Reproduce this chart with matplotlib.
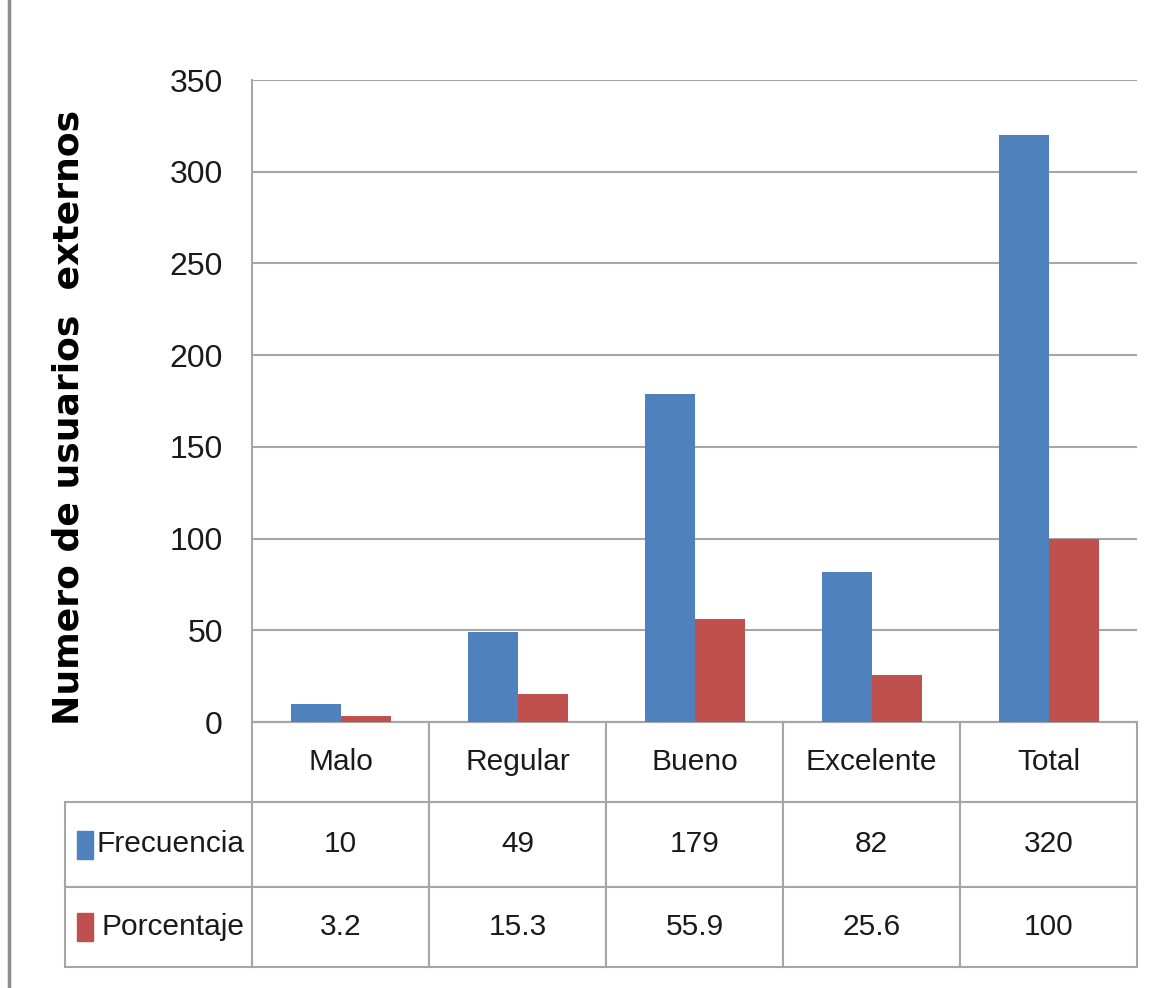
import matplotlib
matplotlib.use("Agg")
import matplotlib.pyplot as plt
from matplotlib.patches import Rectangle
from matplotlib.lines import Line2D
from matplotlib.table import Table
import numpy as np

categories = ["Malo", "Regular", "Bueno", "Excelente", "Total"]
frecuencia = [10, 49, 179, 82, 320]
porcentaje = [3.2, 15.3, 55.9, 25.6, 100]
series_names = ["Frecuencia", "Porcentaje"]
yticks = [0, 50, 100, 150, 200, 250, 300, 350]

BLUE = "#4F81BD"
RED = "#C0504D"
GRID = "#A6A6A6"
NARROW = ["Liberation Sans", "DejaVu Sans"]

W, H = 1161, 988
fig = plt.figure(figsize=(W / 100, H / 100), dpi=100)
ax = fig.add_axes([252 / W, 1 - 722 / H, 885 / W, 642 / H])

x = np.arange(len(categories))
bw = 50 / 177
ax.bar(x - bw / 2, frecuencia, bw, color=BLUE, zorder=3)
ax.bar(x + bw / 2, porcentaje, bw, color=RED, zorder=3)

ax.set_xlim(-0.5, len(categories) - 0.5)
ax.set_ylim(0, 350)
ax.set_yticks(yticks)
ax.set_yticklabels([str(v) for v in yticks], family=NARROW, fontsize=23, color="#1a1a1a")
ax.tick_params(axis="y", length=0, pad=21)
ax.set_xticks([])
ax.grid(axis="y", color=GRID, linewidth=1.5, zorder=0)
for side in ["top", "right"]:
    ax.spines[side].set_visible(False)
for side in ["left", "bottom"]:
    ax.spines[side].set_color(GRID)
    ax.spines[side].set_linewidth(1.5)

ax.set_ylabel("Numero de usuarios  externos", fontsize=26, fontweight="bold",
              family="DejaVu Sans", labelpad=0)
ax.yaxis.set_label_coords((86 - 252) / 885, (722 - 417) / 642)

# data table under the chart (built cell by cell); bbox covers the value grid only
tbl = Table(ax, bbox=[0, -245 / 642, 1, 245 / 642])
tbl.auto_set_font_size(False)
row_h = [80 / 245, 85 / 245, 80 / 245]
col_w = 1 / len(categories)
label_w = 187 / 885
rows = [frecuencia, porcentaje]
for j, cat in enumerate(categories):
    tbl.add_cell(0, j, col_w, row_h[0], text=cat, loc="center")
for i, (name, vals) in enumerate(zip(series_names, rows), start=1):
    tbl.add_cell(i, -1, label_w, row_h[i], text=name, loc="right")
    for j, v in enumerate(vals):
        tbl.add_cell(i, j, col_w, row_h[i], text=f"{v:g}", loc="center")
for cell in tbl.get_celld().values():
    cell.set_edgecolor(GRID)
    cell.set_linewidth(1.5)
    cell.PAD = 0.04
    cell.get_text().set_fontsize(21.5)
    cell.get_text().set_family(NARROW)
    cell.get_text().set_color("#1a1a1a")
ax.add_table(tbl)

# legend keys inside the row-label cells
row_centers = [844.5, 927]
for color, yc in zip([BLUE, RED], row_centers):
    ax.add_patch(Rectangle(((77 - 252) / 885, (722 - yc - 14) / 642), 16 / 885, 28 / 642,
                           transform=ax.transAxes, color=color, clip_on=False, zorder=5))

# thin frame line on the left edge
fig.add_artist(Line2D([9 / W, 9 / W], [0, 1], color="#8c8c8c", linewidth=2.5))

fig.savefig("out.png", dpi=100)
